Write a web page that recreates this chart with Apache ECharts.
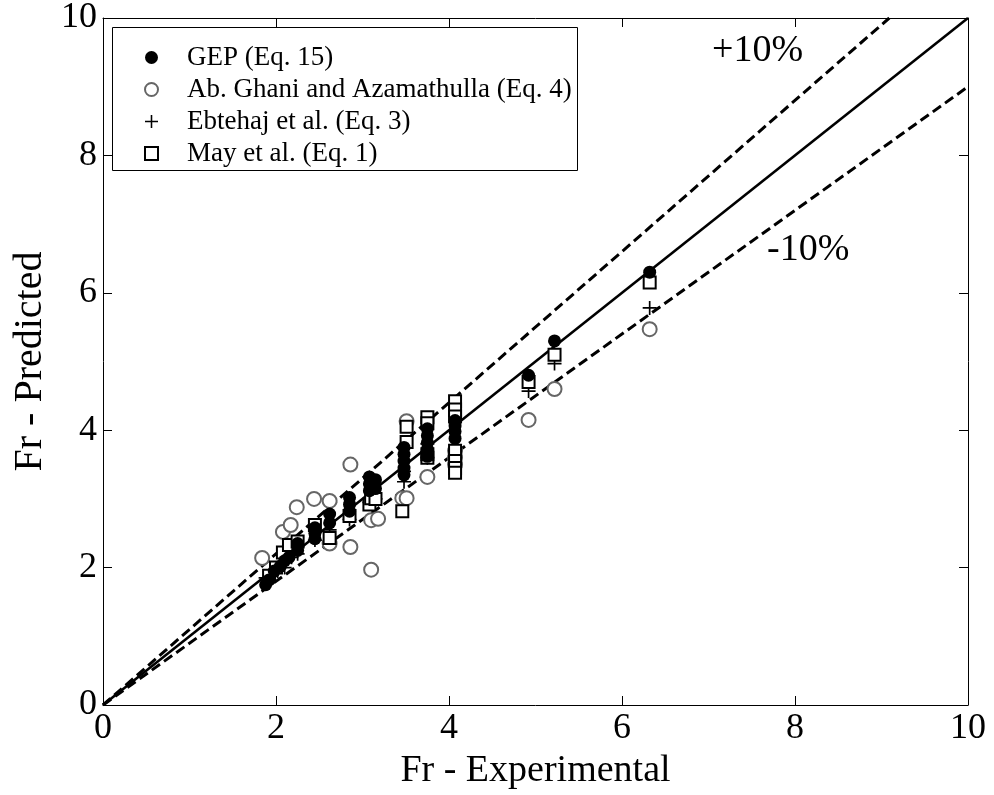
<!DOCTYPE html>
<html>
<head>
<meta charset="utf-8">
<script src="https://cdn.jsdelivr.net/npm/echarts@6/dist/echarts.min.js"></script>
<style>
  html, body { margin: 0; padding: 0; background: #fff; }
  #chart { width: 994px; height: 795px; }
</style>
</head>
<body>
<div id="chart"></div>
<script>
// values
const axisTicks = [0, 2, 4, 6, 8, 10];

const gepExp  = [1.88, 1.92, 1.98, 2.05, 2.1, 2.15, 2.25, 2.25, 2.45, 2.45, 2.45, 2.62, 2.62, 2.85, 2.85, 2.85,
                 3.08, 3.08, 3.08, 3.15, 3.15, 3.48, 3.48, 3.48, 3.48, 3.48, 3.75, 3.75, 3.75, 3.75, 3.75,
                 4.07, 4.07, 4.07, 4.07, 4.92, 5.22, 6.32];
const gepPred = [1.75, 1.82, 1.95, 2.02, 2.1, 2.15, 2.25, 2.35, 2.42, 2.5, 2.58, 2.65, 2.78, 2.82, 2.92, 3.02,
                 3.12, 3.22, 3.32, 3.15, 3.28, 3.35, 3.45, 3.55, 3.65, 3.75, 3.62, 3.72, 3.82, 3.92, 4.02,
                 3.88, 3.98, 4.06, 4.14, 4.8, 5.3, 6.3];

const ghaniExp  = [1.84, 2.08, 2.17, 2.24, 2.44, 2.62, 2.62, 2.86, 2.86, 3.1, 3.1, 3.18, 3.46, 3.51, 3.51,
                   3.75, 4.07, 4.07, 4.07, 4.92, 5.22, 6.32];
const ghaniPred = [2.14, 2.52, 2.62, 2.88, 3.0, 2.97, 2.35, 3.5, 2.3, 1.97, 2.69, 2.71, 3.01, 3.01, 4.13,
                   3.32, 3.6, 3.5, 3.7, 4.15, 4.6, 5.47];

const ebtExp  = [1.88, 1.95, 2.02, 2.1, 2.18, 2.25, 2.45, 2.62, 2.85, 3.08, 3.15, 3.48, 3.48, 3.75, 3.75,
                 4.07, 4.07, 4.92, 5.22, 6.32];
const ebtPred = [1.85, 1.9, 1.95, 2.0, 2.15, 2.2, 2.4, 2.55, 2.7, 2.95, 3.0, 3.25, 3.4, 3.6, 3.8,
                 3.7, 4.2, 4.57, 4.97, 5.78];

const mayExp  = [1.92, 2.0, 2.08, 2.15, 2.25, 2.45, 2.62, 2.85, 3.08, 3.1, 3.15, 3.46, 3.51, 3.51,
                 3.75, 3.75, 3.75, 3.75, 4.07, 4.07, 4.07, 4.07, 4.07, 4.07, 4.07, 4.92, 5.22, 6.32];
const mayPred = [1.88, 2.0, 2.22, 2.33, 2.38, 2.62, 2.43, 2.75, 2.92, 3.01, 3.0, 2.82, 4.05, 3.83,
                 4.19, 4.1, 3.6, 3.65, 4.42, 4.3, 4.2, 3.7, 3.55, 3.45, 3.38, 4.7, 5.1, 6.15];

// reference lines (end points)
const perfectLine = [[0, 0], [10, 10]];
const plusLine    = [[0, 0], [9.09, 10]];
const minusLine   = [[0, 0], [10, 9]];

const names = ['GEP (Eq. 15)', 'Ab. Ghani and Azamathulla (Eq. 4)', 'Ebtehaj et al. (Eq. 3)', 'May et al. (Eq. 1)'];

const pair = (xs, ys) => xs.map((x, i) => [x, ys[i]]);
const serif = 'Liberation Serif';
const plusPath = 'path://M4.4,0H5.6V4.4H10V5.6H5.6V10H4.4V5.6H0V4.4H4.4Z';

const dom = document.getElementById('chart');
const myChart = echarts.init(dom, null, { renderer: 'canvas' });

function axis(show, pos) {
    return {
        type: 'value', min: 0, max: 10, interval: 2, position: pos,
        axisLine: { show: true, onZero: false, lineStyle: { color: '#000', width: 1 } },
        axisTick: { show: true, inside: true, length: 9, lineStyle: { color: '#000' } },
        axisLabel: { show: show, color: '#000', fontFamily: serif, fontSize: 36, margin: 6,
                     formatter: v => axisTicks.indexOf(v) >= 0 ? String(v) : '' },
        splitLine: { show: false }
    };
}

const xMain = axis(true, 'bottom');
xMain.name = 'Fr - Experimental';
xMain.nameLocation = 'middle';
xMain.nameGap = 42;
xMain.nameTextStyle = { color: '#000', fontFamily: serif, fontSize: 38 };
const yMain = axis(true, 'left');
yMain.name = 'Fr - Predicted';
yMain.nameLocation = 'middle';
yMain.nameGap = 42;
yMain.nameTextStyle = { color: '#000', fontFamily: serif, fontSize: 40 };

function refLine(data, dashed) {
    return {
        type: 'line', data: data, showSymbol: false, silent: true, z: 1,
        lineStyle: { color: '#000', width: dashed ? 3 : 2.6, type: dashed ? [10, 5] : 'solid' }
    };
}

const option = {
    animation: false,
    backgroundColor: '#fff',
    grid: { left: 103, right: 26, top: 18, bottom: 90 },
    xAxis: [xMain, axis(false, 'top')],
    yAxis: [yMain, axis(false, 'right')],
    legend: {
        data: names, orient: 'vertical', left: 144, top: 44,
        itemWidth: 13, itemHeight: 13, itemGap: 5, padding: 0,
        textStyle: { color: '#000', fontFamily: serif, fontSize: 27, lineHeight: 27, padding: [0, 0, 0, 24] }
    },
    graphic: [
        { type: 'rect', left: 112, top: 27, z: 3,
          shape: { width: 465, height: 143 },
          style: { fill: '#fff', stroke: '#000', lineWidth: 1 } },
        { type: 'text', left: 712, top: 32, z: 5,
          style: { text: '+10%', fill: '#000', font: '38px ' + serif } },
        { type: 'text', left: 767, top: 231, z: 5,
          style: { text: '-10%', fill: '#000', font: '38px ' + serif } }
    ],
    series: [
        refLine(perfectLine, false),
        refLine(plusLine, true),
        refLine(minusLine, true),
        {
            name: names[0], type: 'scatter', z: 6, symbol: 'circle', symbolSize: 13,
            itemStyle: { color: '#000', opacity: 1 }, data: pair(gepExp, gepPred)
        },
        {
            name: names[1], type: 'scatter', z: 3, symbol: 'emptyCircle', symbolSize: 14,
            itemStyle: { color: '#666', borderColor: '#666', borderWidth: 1.3, opacity: 1 }, data: pair(ghaniExp, ghaniPred)
        },
        {
            name: names[2], type: 'scatter', z: 4, symbol: plusPath, symbolSize: 14,
            itemStyle: { color: '#000', opacity: 1 }, data: pair(ebtExp, ebtPred)
        },
        {
            name: names[3], type: 'scatter', z: 5, symbol: 'emptyRect', symbolSize: 12,
            itemStyle: { color: '#000', borderColor: '#000', borderWidth: 1.3, opacity: 1 }, data: pair(mayExp, mayPred)
        }
    ]
};

myChart.setOption(option, true);
</script>
</body>
</html>
